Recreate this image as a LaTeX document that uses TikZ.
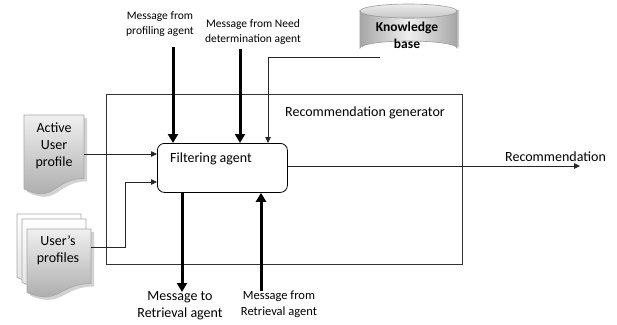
\documentclass[tikz,border=0pt]{standalone}
\usepackage{fontspec}
\setmainfont{Carlito}
\usetikzlibrary{arrows.meta}

\tikzset{
  x=1pt, y=-1pt,
  lbl/.style={inner sep=0pt, align=center, font=\fontsize{14}{17}\selectfont},
  smalllbl/.style={inner sep=0pt, align=center, font=\fontsize{11.5}{14.5}\selectfont},
  thin arrow/.style={draw=black!85, line width=0.8pt, -{Triangle[length=6pt,width=5.5pt]}},
  thick arrow/.style={draw=black, line width=3pt, -{Triangle[length=9pt,width=10pt]}},
  frame/.style={draw=black!80, line width=0.8pt},
  docshade/.style={top color=gray!12, bottom color=gray!70, draw=gray!70, line width=0.6pt},
  sheet/.style={top color=white, bottom color=gray!25, draw=gray!70, line width=0.6pt},
  shadowfill/.style={fill=gray!35, draw=none},
}

% document outline: #1,#2 top-left corner, #3 width, #4 height
\newcommand\docoutline[4]{%
  (#1,#2) -- ++(#3,0) -- ++(0,0.802*#4)
  .. controls ++(-0.5*#3,0) and ++(0.5*#3,0.2*#4) .. ++(-#3,0.132*#4) -- cycle}

\begin{document}
\begin{tikzpicture}
\useasboundingbox (0,0) rectangle (617,324);

% generator frame
\draw[frame] (106,94) rectangle (462,264);
\node[lbl, anchor=west] (gen) at (285,113) {Recommendation generator};

% filtering agent
\node[draw=black, line width=0.8pt, rounded corners=7pt, minimum width=130pt,
      minimum height=49pt, anchor=north west, inner sep=0pt] (fa) at (157,143) {};
\node[lbl, anchor=west] (fatext) at (170,159) {Filtering agent};

% knowledge base cylinder
\fill[gray!40] (362,10) -- (362,48) arc[start angle=180, end angle=360, x radius=48.5, y radius=7] -- (459,10) -- cycle;
\shade[left color=gray!70, right color=gray!70, middle color=gray!12, draw=gray!75, line width=0.6pt]
  (360,11) -- (360,48) arc[start angle=180, end angle=360, x radius=48.5, y radius=7]
  -- (457,11) arc[start angle=0, end angle=180, x radius=48.5, y radius=7] -- cycle;
\shade[top color=gray!15, bottom color=gray!45, draw=gray!75, line width=0.6pt]
  (408.5,11) ellipse[x radius=48.5, y radius=7];
\node[lbl, font=\fontsize{13.5}{17}\selectfont\bfseries] (kb) at (407,35) {Knowledge\\base};
\coordinate (kbout) at (380,57);

% active user profile document
\fill[shadowfill] \docoutline{27}{118}{60}{79};
\shade[docshade] \docoutline{24}{115}{60}{79};
\node[lbl] (aup) at (54,146) {Active\\User\\profile};

% stacked user profiles
\shade[sheet] \docoutline{17}{214}{64}{68};
\shade[sheet] \docoutline{22}{219}{64}{68};
\fill[shadowfill] \docoutline{30}{232}{64}{68};
\shade[docshade] \docoutline{27}{229}{64}{68};
\node[lbl] (up) at (58,250) {User’s\\profiles};

% incoming message labels
\node[smalllbl] (mprof) at (160,24) {Message from\\profiling agent};
\node[smalllbl] (mneed) at (253,32) {Message from Need\\determination agent};
\node[lbl] (mto) at (180,306) {Message to\\Retrieval agent};
\node[smalllbl, font=\fontsize{12.5}{16}\selectfont] (mfrom) at (279,304) {Message from\\Retrieval agent};
\node[lbl, anchor=west] (rec) at (505,157) {Recommendation};

% connectors
\draw[thick arrow] (173,47) -- (fa.north west -| 173,0);
\draw[thick arrow] (240,49) -- (fa.north west -| 240,0);
\draw[thin arrow] (kbout) -- (268,57) -- (fa.north west -| 268,0);
\draw[thin arrow] (84,154) -- (fa.west |- 0,154);
\draw[thin arrow] (91,247) -- (125,247) -- (125,182) -- (fa.west |- 0,182);
\draw[thick arrow] (fa.south west -| 182,0) -- (182,292);
\draw[thick arrow] (261,291) -- (fa.south west -| 261,0);
\draw[thin arrow] (fa.east |- 0,166) -- (580,166);

\end{tikzpicture}
\end{document}
